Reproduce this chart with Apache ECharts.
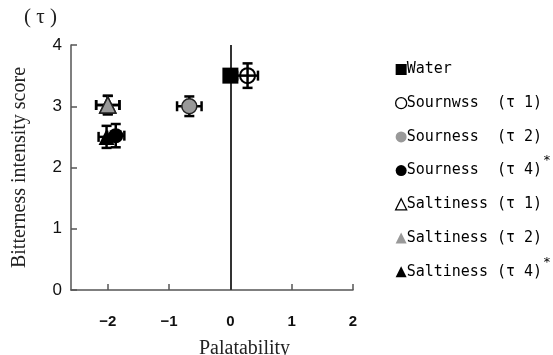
<!DOCTYPE html>
<html>
<head>
<meta charset="utf-8">
<script src="https://cdn.jsdelivr.net/npm/echarts@6/dist/echarts.min.js"></script>
<style>
html,body{margin:0;padding:0;background:#fff;}
#chart{width:553px;height:355px;}
</style>
</head>
<body>
<div id="chart"></div>
<script>
// ---- data ----
const seriesNames = ['Water', 'Sournwss  (τ 1)', 'Sourness  (τ 2)', 'Sourness  (τ 4)', 'Saltiness (τ 1)', 'Saltiness (τ 2)', 'Saltiness (τ 4)'];
const starred = [false, false, false, true, false, false, true];
const palatability = [0.0, 0.28, -0.67, -1.87, -2.0, -2.0, -2.02];
const bitterness = [3.5, 3.5, 3.0, 2.52, 3.02, 3.02, 2.5];
const palatabilityErr = [0, 0.17, 0.2, 0.14, 0.19, 0.19, 0.13];
const bitternessErr = [0, 0.2, 0.16, 0.19, 0.15, 0.15, 0.18];
const xTicks = [-2, -1, 0, 1, 2];
const yTicks = [0, 1, 2, 3, 4];

// ---- styles ----
const symbols = ['rect', 'circle', 'circle', 'circle', 'triangle', 'triangle', 'triangle'];
const sizes = [16, 15, 15, 15, 16, 16, 16];
const fills = ['#000', 'rgba(255,255,255,0)', '#999', '#000', '#fff', '#999', '#000'];
const borders = ['#000', '#000', '#222', '#000', '#000', '#222', '#000'];
const borderW = [0, 2, 1.5, 0, 1.5, 1.5, 0];
const legendBorderW = [0, 1.3, 0, 0, 1.3, 0, 0];
const drawOrder = [4, 0, 1, 2, 5, 3, 6];

// legend layout (pixels)
const legendLeft = 390, legendTop = 57, legendStep = 33.7;

const chart = echarts.init(document.getElementById('chart'), null, {renderer: 'canvas'});

const errData = drawOrder.map(i => [palatability[i], bitterness[i], palatabilityErr[i], bitternessErr[i]]);

const scatterSeries = drawOrder.map(i => ({
  type: 'scatter',
  name: seriesNames[i],
  symbol: symbols[i],
  symbolSize: sizes[i],
  z: 5,
  itemStyle: {color: fills[i], borderColor: borders[i], borderWidth: borderW[i], opacity: 1},
  emphasis: {disabled: true},
  data: [[palatability[i], bitterness[i]]]
}));

const errorSeries = {
  type: 'custom',
  name: 'err',
  z: 3,
  silent: true,
  data: errData,
  renderItem: function (params, api) {
    const x = api.value(0), y = api.value(1), xe = api.value(2), ye = api.value(3);
    const children = [];
    const st = {stroke: '#000', lineWidth: 2.5};
    const cap = 5;
    if (xe > 0) {
      const l = api.coord([x - xe, y]), r = api.coord([x + xe, y]);
      children.push({type: 'line', shape: {x1: l[0], y1: l[1], x2: r[0], y2: r[1]}, style: st});
      children.push({type: 'line', shape: {x1: l[0], y1: l[1] - cap, x2: l[0], y2: l[1] + cap}, style: st});
      children.push({type: 'line', shape: {x1: r[0], y1: r[1] - cap, x2: r[0], y2: r[1] + cap}, style: st});
    }
    if (ye > 0) {
      const t = api.coord([x, y + ye]), b = api.coord([x, y - ye]);
      children.push({type: 'line', shape: {x1: t[0], y1: t[1], x2: b[0], y2: b[1]}, style: st});
      children.push({type: 'line', shape: {x1: t[0] - cap, y1: t[1], x2: t[0] + cap, y2: t[1]}, style: st});
      children.push({type: 'line', shape: {x1: b[0] - cap, y1: b[1], x2: b[0] + cap, y2: b[1]}, style: st});
    }
    return {type: 'group', children: children};
  },
  markLine: {
    silent: true,
    symbol: ['none', 'none'],
    label: {show: false},
    lineStyle: {color: '#333', width: 2, type: 'solid'},
    data: [{xAxis: 0}]
  }
};

// superscript asterisks after the starred legend entries
const starGraphics = [];
starred.forEach((s, i) => {
  if (s) {
    starGraphics.push({
      type: 'text',
      x: 547,
      y: legendTop + 7 + i * legendStep - 4,
      style: {text: '*', fontFamily: 'DejaVu Sans Mono, monospace', fontSize: 13, fill: '#000', align: 'center', verticalAlign: 'middle'}
    });
  }
});

const option = {
  animation: false,
  backgroundColor: '#fff',
  grid: {left: 71, right: 200, top: 45, bottom: 65},
  xAxis: {
    type: 'value',
    min: -2.6,
    max: 2,
    axisLine: {onZero: false, lineStyle: {color: '#555', width: 1.5}},
    axisTick: {show: true, inside: true, length: 6, customValues: xTicks, lineStyle: {color: '#555', width: 1.5}},
    axisLabel: {
      customValues: xTicks,
      margin: 24,
      fontSize: 15,
      fontWeight: 'bold',
      fontFamily: 'Liberation Sans, Arial, sans-serif',
      color: '#111',
      formatter: v => String(v).replace('-', '\u2212')
    },
    splitLine: {show: false}
  },
  yAxis: {
    type: 'value',
    min: 0,
    max: 4,
    interval: 1,
    name: 'Bitterness intensity score',
    nameLocation: 'middle',
    nameGap: 41,
    nameRotate: 90,
    nameTextStyle: {fontFamily: 'Liberation Serif, Times New Roman, serif', fontSize: 20, color: '#222'},
    axisLine: {onZero: false, lineStyle: {color: '#555', width: 1.5}},
    axisTick: {show: true, inside: true, length: 6, lineStyle: {color: '#555', width: 1.5}},
    axisLabel: {
      margin: 9,
      fontSize: 17,
      fontFamily: 'Liberation Sans, Arial, sans-serif',
      color: '#111',
      customValues: yTicks
    },
    splitLine: {show: false}
  },
  legend: {
    orient: 'vertical',
    left: legendLeft,
    top: legendTop,
    itemWidth: 11,
    itemHeight: 11,
    itemGap: legendStep - 15,
    selectedMode: false,
    data: seriesNames.map((n, i) => ({name: n, icon: symbols[i], itemStyle: {borderWidth: legendBorderW[i], borderColor: '#000'}})),
    textStyle: {
      fontFamily: 'DejaVu Sans Mono, monospace',
      fontSize: 15,
      lineHeight: 14,
      color: '#000',
      padding: [0, 0, 0, -5]
    }
  },
  graphic: [
    {type: 'text', left: 24, top: 7, style: {text: '( τ )', fontFamily: 'Liberation Serif, serif', fontSize: 21, fill: '#222'}},
    {type: 'text', left: 199, top: 339, style: {text: 'Palatability', fontFamily: 'Liberation Serif, serif', fontSize: 20, fill: '#222'}}
  ].concat(starGraphics),
  series: [errorSeries].concat(scatterSeries)
};
chart.setOption(option);
</script>
</body>
</html>
